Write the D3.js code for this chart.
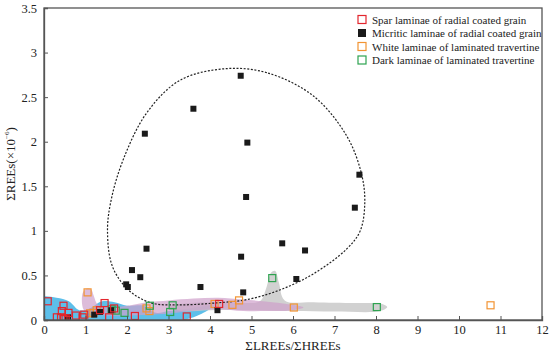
<!DOCTYPE html>
<html><head><meta charset="utf-8">
<script src="https://cdn.jsdelivr.net/npm/d3@7"></script>
<style>body{margin:0;background:#fff}svg{display:block}text{font-family:"Liberation Serif","Times New Roman",serif;fill:#222}</style>
</head><body><svg id="c" width="550" height="353"></svg>
<script>
// ---- data ----
const xTicks = [0,1,2,3,4,5,6,7,8,9,10,11,12];
const yTicks = [0,0.5,1,1.5,2,2.5,3,3.5];
const yTickLabels = ["0","0.5","1","1.5","2","2.5","3","3.5"];
const seriesNames = ["Spar laminae of radial coated grain","Micritic laminae of radial coated grain","White laminae of laminated travertine","Dark laminae of laminated travertine"];
const seriesColors = ["#e3262e","#1a1a1a","#f29433","#2ea350"];
const spar = [[0.09,0.21],[0.47,0.16],[0.43,0.10],[0.59,0.08],[0.31,0.03],[0.41,0.03],[0.47,0.01],[0.52,0.02],[0.77,0.05],[0.93,0.03],[0.97,0.06],[1.46,0.19],[1.35,0.11],[1.69,0.13],[1.57,0.03],[2.19,0.045],[3.44,0.04],[4.22,0.18]];
const micritic = [[4.74,2.74],[3.6,2.37],[2.43,2.09],[4.9,1.99],[7.6,1.63],[4.87,1.38],[7.49,1.26],[2.47,0.80],[5.74,0.86],[6.29,0.78],[4.75,0.71],[6.08,0.46],[2.12,0.56],[2.32,0.48],[1.98,0.40],[2.02,0.37],[3.77,0.37],[4.8,0.31],[4.18,0.11],[0.58,0.03],[1.21,0.06],[1.35,0.09],[1.62,0.11]];
const white = [[1.05,0.31],[1.11,0.075],[1.19,0.08],[1.27,0.11],[2.47,0.13],[2.54,0.10],[4.11,0.18],[4.70,0.22],[4.54,0.17],[6.02,0.14],[10.76,0.165]];
const dark = [[1.63,0.12],[1.73,0.105],[1.94,0.08],[2.55,0.16],[3.1,0.165],[3.04,0.09],[5.5,0.47],[8.02,0.145]];
const blueField = [[-0.1,-0.05],[-0.1,0.25],[0.3,0.25],[0.6,0.21],[0.85,0.11],[1.1,0.13],[1.4,0.21],[1.7,0.2],[2.0,0.16],[2.4,0.16],[2.7,0.08],[3.0,0.1],[3.5,0.13],[4.1,0.16],[3.8,0.07],[3.4,0.0],[3.0,-0.05],[2.8,-0.02],[2.5,-0.05],[1.5,-0.05],[0.5,-0.05]];
const pinkField = [[0.95,0.12],[0.93,0.3],[1.02,0.35],[1.14,0.34],[1.2,0.27],[1.3,0.17],[1.6,0.14],[2.0,0.16],[2.5,0.2],[3.0,0.22],[3.6,0.24],[4.2,0.25],[4.8,0.23],[5.5,0.2],[6.0,0.17],[6.25,0.14],[6.0,0.11],[5.4,0.1],[4.8,0.1],[4.2,0.12],[3.5,0.1],[3.0,0.07],[2.5,0.06],[2.0,0.05],[1.5,0.05],[1.1,0.07]];
const grayField = [[3.0,0.15],[3.5,0.19],[4.5,0.2],[5.2,0.21],[5.35,0.35],[5.47,0.53],[5.57,0.55],[5.66,0.42],[5.8,0.22],[6.5,0.2],[7.5,0.19],[8.15,0.18],[8.27,0.145],[8.1,0.1],[7,0.095],[6,0.1],[5,0.11],[4,0.11],[3.3,0.1]];
const envelope = [[4.4,2.82],[5.4,2.77],[6.5,2.51],[7.3,2.06],[7.65,1.64],[7.73,1.32],[7.62,1.0],[7.3,0.8],[6.5,0.52],[5.7,0.34],[4.9,0.23],[4.1,0.19],[3.3,0.17],[2.6,0.19],[2.05,0.33],[1.65,0.6],[1.53,1.0],[1.62,1.35],[1.91,1.8],[2.47,2.32],[3.28,2.69]];

// ---- chart ----
const svg = d3.select("#c");
const x = d3.scaleLinear().domain([0,12]).range([44,542]);
const y = d3.scaleLinear().domain([0,3.5]).range([320,8]);
svg.append("clipPath").attr("id","clip").append("rect").attr("x",44).attr("y",8).attr("width",498).attr("height",312);
const g = svg.append("g").attr("clip-path","url(#clip)");
const area = d3.line().x(d=>x(d[0])).y(d=>y(d[1])).curve(d3.curveCatmullRomClosed.alpha(0.5));
g.append("path").attr("d",area(blueField)).attr("fill","#5dbfea");
g.append("path").attr("d",area(grayField)).attr("fill","#c9c9c9").attr("opacity",0.85);
g.append("path").attr("d",area(pinkField)).attr("fill","#cf9fcb").attr("opacity",0.7);
g.append("path").attr("d",area(envelope)).attr("fill","none").attr("stroke","#222").attr("stroke-width",1.2).attr("stroke-dasharray","2,1.6");

// frame
svg.append("rect").attr("x",44).attr("y",8).attr("width",498).attr("height",312).attr("fill","none").attr("stroke","#555").attr("stroke-width",1.3);
const xa = svg.append("g").attr("transform","translate(0,320)").call(d3.axisBottom(x).tickValues(xTicks).tickSize(-4).tickPadding(5).tickFormat(d3.format("d")));
const ya = svg.append("g").attr("transform","translate(44,0)").call(d3.axisLeft(y).tickValues(yTicks).tickSize(-4).tickPadding(7).tickFormat((d,i)=>yTickLabels[i]));
[xa,ya].forEach(a=>{a.select(".domain").attr("stroke","#555").attr("stroke-width",1.3);a.selectAll(".tick line").attr("stroke","#555");a.selectAll("text").attr("font-size",12.5).attr("font-family","Liberation Serif").attr("fill","#222");});

// points
const ms = 6;
function openSq(data,color){
  g.selectAll(null).data(data).enter().append("rect").attr("x",d=>x(d[0])-3.5).attr("y",d=>y(d[1])-3.5).attr("width",7).attr("height",7).attr("fill","none").attr("stroke",color).attr("stroke-width",1.2);
}
openSq(white,seriesColors[2]);
openSq(dark,seriesColors[3]);
g.selectAll(null).data(micritic).enter().append("rect").attr("x",d=>x(d[0])-3).attr("y",d=>y(d[1])-3).attr("width",ms).attr("height",ms).attr("fill",seriesColors[1]);
openSq(spar,seriesColors[0]);

// legend
const lg = svg.append("g");
seriesNames.forEach((n,i)=>{
  const cy = 19.5 + i*13.5;
  const r = lg.append("rect").attr("x",358).attr("y",cy-4).attr("width",8).attr("height",8);
  if(i===1) r.attr("fill",seriesColors[i]); else r.attr("fill","none").attr("stroke",seriesColors[i]).attr("stroke-width",1.2);
  lg.append("text").attr("x",372).attr("y",cy+4).attr("font-size",11).text(n);
});

// axis titles
svg.append("text").attr("x",293).attr("y",350).attr("text-anchor","middle").attr("font-size",13).text("ΣLREEs/ΣHREEs");
const yt = svg.append("text").attr("transform","translate(15,164) rotate(-90)").attr("text-anchor","middle").attr("font-size",13);
yt.append("tspan").text("ΣREEs(×10");
yt.append("tspan").attr("font-size",7).attr("dy",-6).text("−6");
yt.append("tspan").attr("dy",6).text(")");
</script></body></html>
